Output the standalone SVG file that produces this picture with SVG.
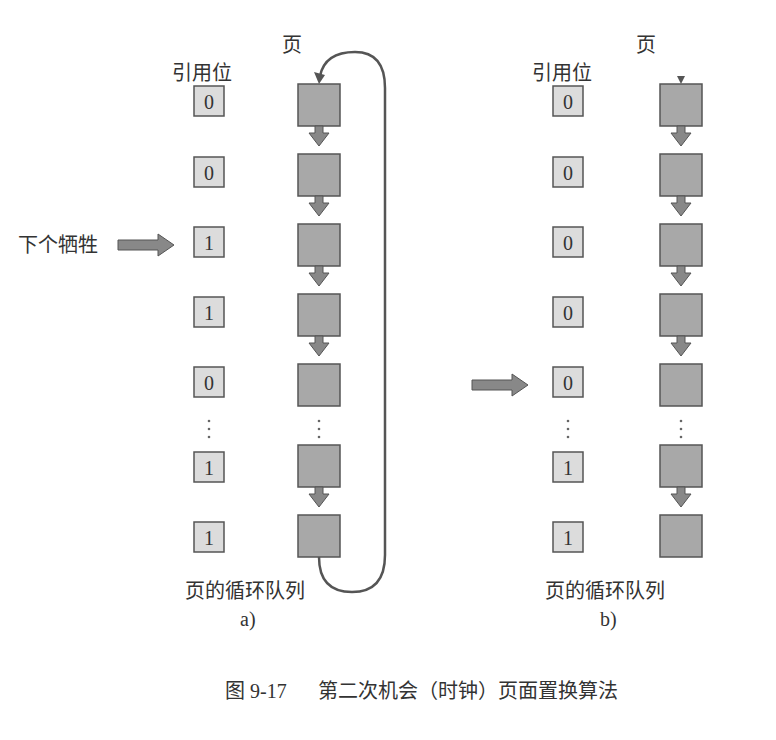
<svg xmlns="http://www.w3.org/2000/svg" width="776" height="740" viewBox="0 0 776 740">
<style>
text{font-family:"Liberation Serif","Noto Sans CJK SC",serif;fill:#333}
.bit{fill:#dcdcdc;stroke:#555;stroke-width:1.5}
.pg{fill:#a8a8a8;stroke:#555;stroke-width:1.5}
.bt{font-size:20px;text-anchor:middle}
.lb{font-size:20px}
.fa{fill:#888;stroke:#555;stroke-width:1}
.ln{fill:none;stroke:#555;stroke-width:2.5}
.dot{fill:#666}
</style>
<defs>
<g id="down"><polygon class="fa" points="-4,0 4,0 4,7 10,7 0,20 -10,7 -4,7"/></g>
<g id="right"><polygon class="fa" points="0,-5 40,-5 40,-11 56,0 40,11 40,5 0,5"/></g>
</defs>
<rect width="776" height="740" fill="#fff"/>
<text class="lb" x="282" y="52">页</text>
<text class="lb" x="172" y="80">引用位</text>
<text class="lb" x="636" y="52">页</text>
<text class="lb" x="532" y="80">引用位</text>
<g id="left">
<g id="bits-a">
<rect class="bit" x="194" y="86" width="30" height="30"/><text class="bt" x="209" y="109">0</text>
<rect class="bit" x="194" y="157" width="30" height="30"/><text class="bt" x="209" y="180">0</text>
<rect class="bit" x="194" y="227" width="30" height="30"/><text class="bt" x="209" y="250">1</text>
<rect class="bit" x="194" y="297" width="30" height="30"/><text class="bt" x="209" y="320">1</text>
<rect class="bit" x="194" y="367" width="30" height="30"/><text class="bt" x="209" y="390">0</text>
<rect class="bit" x="194" y="452" width="30" height="30"/><text class="bt" x="209" y="475">1</text>
<rect class="bit" x="194" y="522" width="30" height="30"/><text class="bt" x="209" y="545">1</text>
<circle class="dot" cx="209" cy="421" r="1.3"/><circle class="dot" cx="209" cy="429" r="1.3"/><circle class="dot" cx="209" cy="437" r="1.3"/>
</g>
<g id="pages-a">
<rect class="pg" x="298" y="84" width="42" height="42"/>
<rect class="pg" x="298" y="154" width="42" height="42"/>
<rect class="pg" x="298" y="224" width="42" height="42"/>
<rect class="pg" x="298" y="294" width="42" height="42"/>
<rect class="pg" x="298" y="364" width="42" height="42"/>
<rect class="pg" x="298" y="445" width="42" height="42"/>
<rect class="pg" x="298" y="515" width="42" height="42"/>
<circle class="dot" cx="319" cy="421" r="1.3"/><circle class="dot" cx="319" cy="429" r="1.3"/><circle class="dot" cx="319" cy="437" r="1.3"/>
</g>
</g>
<g id="right-side">
<g id="bits-b">
<rect class="bit" x="553" y="86" width="30" height="30"/><text class="bt" x="568" y="109">0</text>
<rect class="bit" x="553" y="157" width="30" height="30"/><text class="bt" x="568" y="180">0</text>
<rect class="bit" x="553" y="227" width="30" height="30"/><text class="bt" x="568" y="250">0</text>
<rect class="bit" x="553" y="297" width="30" height="30"/><text class="bt" x="568" y="320">0</text>
<rect class="bit" x="553" y="367" width="30" height="30"/><text class="bt" x="568" y="390">0</text>
<rect class="bit" x="553" y="452" width="30" height="30"/><text class="bt" x="568" y="475">1</text>
<rect class="bit" x="553" y="522" width="30" height="30"/><text class="bt" x="568" y="545">1</text>
<circle class="dot" cx="568" cy="421" r="1.3"/><circle class="dot" cx="568" cy="429" r="1.3"/><circle class="dot" cx="568" cy="437" r="1.3"/>
</g>
<g id="pages-b">
<rect class="pg" x="660" y="84" width="42" height="42"/>
<rect class="pg" x="660" y="154" width="42" height="42"/>
<rect class="pg" x="660" y="224" width="42" height="42"/>
<rect class="pg" x="660" y="294" width="42" height="42"/>
<rect class="pg" x="660" y="364" width="42" height="42"/>
<rect class="pg" x="660" y="445" width="42" height="42"/>
<rect class="pg" x="660" y="515" width="42" height="42"/>
<circle class="dot" cx="681" cy="421" r="1.3"/><circle class="dot" cx="681" cy="429" r="1.3"/><circle class="dot" cx="681" cy="437" r="1.3"/>
</g>
</g>
<g id="connectors">
<use href="#down" x="319" y="126"/><use href="#down" x="319" y="196"/><use href="#down" x="319" y="266"/><use href="#down" x="319" y="336"/><use href="#down" x="319" y="487"/>
<use href="#down" x="681" y="126"/><use href="#down" x="681" y="196"/><use href="#down" x="681" y="266"/><use href="#down" x="681" y="336"/><use href="#down" x="681" y="487"/>
<path class="ln" d="M319,557 Q319,592 352,592 Q385,592 385,555 L385,88 Q385,52 355,52 Q325,52 320,76"/>
<polygon fill="#555" points="314,72 325,75 319,84"/>
<polygon fill="#555" points="677,76 685,76 681,84"/>
<use href="#right" x="118" y="245"/>
<use href="#right" x="472" y="385"/>
</g>
<text class="lb" x="18" y="252">下个牺牲</text>
<text class="lb" x="185" y="598">页的循环队列</text>
<text class="lb" x="545" y="598">页的循环队列</text>
<text class="lb" x="240" y="626">a)</text>
<text class="lb" x="600" y="626">b)</text>
<text class="lb" x="225" y="698">图 9-17</text>
<text class="lb" x="318" y="698">第二次机会（时钟）页面置换算法</text>
</svg>
